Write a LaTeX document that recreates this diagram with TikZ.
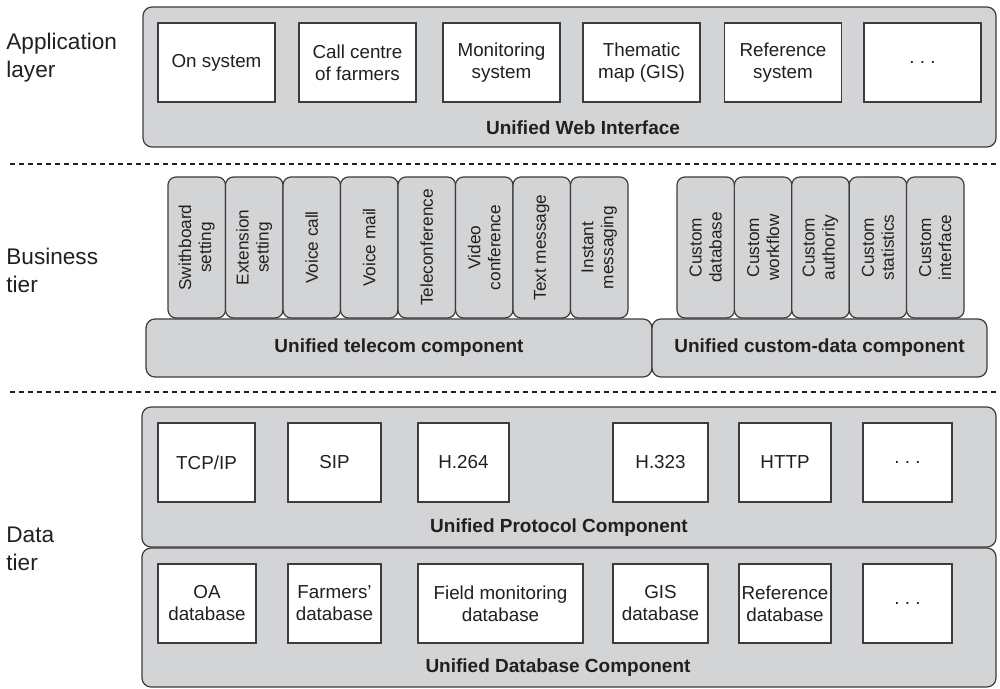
\documentclass[tikz,border=0pt]{standalone}
\usepackage{fontspec}
\setmainfont{Liberation Sans}
\definecolor{panelgray}{RGB}{211,212,214}
\definecolor{edgegray}{RGB}{60,60,62}
\definecolor{inkblack}{RGB}{35,31,32}
\newcommand{\moredots}{.\hspace{2.6pt}.\hspace{2.6pt}.}

\begin{document}
\begin{tikzpicture}[x=0.5pt,y=-0.5pt,
    panel/.style={draw=edgegray, fill=panelgray, line width=0.6pt,
      rounded corners=4.5pt, inner sep=0pt},
    unitbox/.style={draw=edgegray, fill=white, line width=0.6pt, inner sep=1pt,
      minimum height=39.5pt, align=center, text=inkblack,
      font=\fontsize{9.4}{11}\selectfont},
    funcbox/.style={panel, rotate=90, rounded corners=4pt,
      minimum width=70.5pt, minimum height=28.75pt, align=center, text=inkblack,
      font=\fontsize{8.6}{10}\selectfont},
    barbox/.style={panel, minimum height=29pt, text=inkblack,
      font=\bfseries\fontsize{9.5}{11}\selectfont},
    bartitle/.style={inner sep=0pt, text=inkblack,
      font=\bfseries\fontsize{9.5}{11}\selectfont},
    tiername/.style={anchor=west, align=left, inner sep=0pt, text=inkblack,
      font=\fontsize{11.3}{14}\selectfont},
    tierline/.style={draw=inkblack, line width=0.55pt, dash pattern=on 2.5pt off 2pt}]
  \path[use as bounding box] (0,0) rectangle (1000,689);

  \node[tiername] (applbl) at (6,58) {Application\\layer};
  \node[tiername] (buslbl) at (6,270) {Business\\tier};
  \node[tiername] (datalbl) at (6,549) {Data\\tier};

  \coordinate (sepA west) at (10,164);
  \coordinate (sepA east) at (1000,164);
  \coordinate (sepB west) at (10,392);
  \coordinate (sepB east) at (1000,392);
  \draw[tierline] (sepA west) -- (sepA east);
  \draw[tierline] (sepB west) -- (sepB east);

  \begin{scope}
    \node[panel, minimum width=426.5pt, minimum height=70pt] (webpanel) at (569.5,77) {};
    \node[unitbox, minimum width=58.5pt] (onsys) at (216.5,62.5) {On system};
    \node[unitbox, minimum width=58.5pt] (callc) at (357.5,62.5) {Call centre\\of farmers};
    \node[unitbox, minimum width=58.5pt] (monsys) at (501.5,62.5) {Monitoring\\system};
    \node[unitbox, minimum width=58.5pt] (gismap) at (641.5,62.5) {Thematic\\map (GIS)};
    \node[unitbox, minimum width=58.5pt] (refsys) at (783,62.5) {Reference\\system};
    \node[unitbox, minimum width=58.5pt] (moreapp) at (922.5,62.5) {\moredots};
    \node[bartitle] (webtitle) at (583,128) {Unified Web Interface};
  \end{scope}

  \begin{scope}
    \node[barbox, minimum width=253pt] (telbar) at (399,348) {Unified telecom component};
    \node[barbox, minimum width=167.5pt] (custbar) at (819.5,348) {Unified custom-data component};
    \node[funcbox] (swboard) at (196.75,247.5) {Swithboard\\setting};
    \node[funcbox] (extset) at (254.25,247.5) {Extension\\setting};
    \node[funcbox] (vcall) at (311.75,247.5) {Voice call};
    \node[funcbox] (vmail) at (369.25,247.5) {Voice mail};
    \node[funcbox] (tconf) at (426.75,247.5) {Teleconference};
    \node[funcbox] (vconf) at (484.25,247.5) {Video\\conference};
    \node[funcbox] (tmsg) at (541.75,247.5) {Text message};
    \node[funcbox] (imsg) at (599.25,247.5) {Instant\\messaging};
    \node[funcbox] (cdb) at (705.7,247.5) {Custom\\database};
    \node[funcbox] (cwf) at (763.1,247.5) {Custom\\workflow};
    \node[funcbox] (cauth) at (820.5,247.5) {Custom\\authority};
    \node[funcbox] (cstat) at (877.9,247.5) {Custom\\statistics};
    \node[funcbox] (cintf) at (935.3,247.5) {Custom\\interface};
  \end{scope}

  \begin{scope}
    \node[panel, minimum width=427pt, minimum height=70pt] (protpanel) at (569,477) {};
    \node[unitbox, minimum width=48.5pt] (tcpip) at (206.5,462.5) {TCP/IP};
    \node[unitbox, minimum width=46.5pt] (sip) at (334.5,462.5) {SIP};
    \node[unitbox, minimum width=45.5pt] (hsix) at (463.5,462.5) {H.264};
    \node[unitbox, minimum width=47.5pt] (hthree) at (660.5,462.5) {H.323};
    \node[unitbox, minimum width=46pt] (http) at (785,462.5) {HTTP};
    \node[unitbox, minimum width=44.5pt] (moreprot) at (907.5,462.5) {\moredots};
    \node[bartitle] (prottitle) at (559,528) {Unified Protocol Component};
  \end{scope}

  \begin{scope}
    \node[panel, minimum width=427pt, minimum height=69.5pt] (dbpanel) at (569,617.5) {};
    \node[unitbox, minimum width=49pt] (oadb) at (207,603.5) {OA\\database};
    \node[unitbox, minimum width=46.5pt] (farmdb) at (334.5,603.5) {Farmers'\\database};
    \node[unitbox, minimum width=82.5pt] (fielddb) at (500.5,603.5) {Field monitoring\\database};
    \node[unitbox, minimum width=47.5pt] (gisdb) at (660.5,603.5) {GIS\\database};
    \node[unitbox, minimum width=46pt] (refdb) at (785,603.5) {Reference\\database};
    \node[unitbox, minimum width=44.5pt] (moredb) at (907.5,603.5) {\moredots};
    \node[bartitle] (dbtitle) at (558,668) {Unified Database Component};
  \end{scope}
\end{tikzpicture}
\end{document}
